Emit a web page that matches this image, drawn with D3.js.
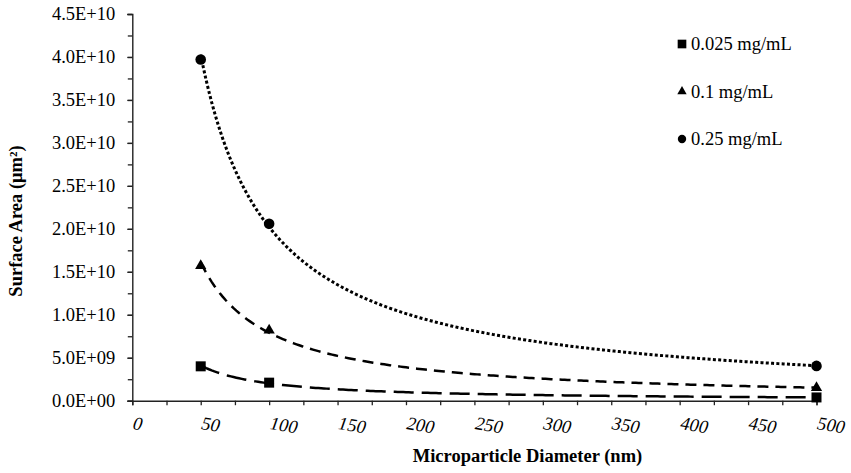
<!DOCTYPE html>
<html><head><meta charset="utf-8">
<script src="https://cdn.jsdelivr.net/npm/d3@7"></script>
<style>
body{margin:0;background:#fff;}
text{font-family:"Liberation Serif","Times New Roman",serif;fill:#000;}
</style>
</head><body>
<svg id="c" width="851" height="473"></svg>
<script>
// ---- data ----
const diameters = [50, 100, 500];
const conc025 = [4.0e9, 2.1e9, 0.38e9];     // 0.025 mg/mL
const conc01  = [1.57e10, 0.82e10, 1.5e9];  // 0.1 mg/mL
const conc25  = [3.97e10, 2.06e10, 0.405e10]; // 0.25 mg/mL
const seriesNames = ["0.025 mg/mL", "0.1 mg/mL", "0.25 mg/mL"];
const xTickValues = [0, 50, 100, 150, 200, 250, 300, 350, 400, 450, 500];
const yTickValues = [0, 5e9, 1e10, 1.5e10, 2e10, 2.5e10, 3e10, 3.5e10, 4e10, 4.5e10];
const xTitle = "Microparticle Diameter (nm)";
const yTitle = "Surface Area (\u03bcm\u00b2)";

const svg = d3.select("#c");
svg.append("rect").attr("width", 851).attr("height", 473).attr("fill", "#fff");

const x = d3.scaleLinear().domain([0, 500]).range([132.3, 816.5]);
const y = d3.scaleLinear().domain([0, 4.5e10]).range([400.7, 14]);

function sciFmt(v) {
  if (v === 0) return "0.0E+00";
  const e = Math.floor(Math.log10(v) + 1e-9);
  const m = v / Math.pow(10, e);
  return m.toFixed(1) + "E+" + String(e).padStart(2, "0");
}

// minor ticks
const yMinor = d3.range(0, 4.5e10 + 1, 2.5e9);
const xMinor = d3.range(0, 501, 25);

const gy = svg.append("g").attr("transform", `translate(${x(0)},0)`)
  .call(d3.axisLeft(y).tickValues(yTickValues).tickFormat(sciFmt).tickSize(5).tickPadding(12));
svg.append("g").attr("transform", `translate(${x(0)},0)`)
  .call(d3.axisLeft(y).tickValues(yMinor).tickFormat("").tickSize(4.5))
  .select(".domain").remove();
gy.selectAll("text").style("font-size", "18.5px").attr("fill", "#000");

const gx = svg.append("g").attr("transform", `translate(0,${y(0)})`)
  .call(d3.axisBottom(x).tickValues(xMinor).tickFormat("").tickSize(4.5));

[gx, gy].forEach(g => {
  g.selectAll(".domain").attr("stroke", "#222").attr("stroke-width", 1.4);
});
svg.selectAll(".tick line").attr("stroke", "#222").attr("stroke-width", 1.3);

// x tick labels (italic, rotated)
svg.append("g").selectAll("text").data(xTickValues).join("text")
  .attr("transform", d => `translate(${x(d)},429) rotate(9)`)
  .attr("text-anchor", "start")
  .style("font-size", "18.5px").style("font-style", "italic")
  .text(d => d);

// titles
svg.append("text").attr("x", 527.5).attr("y", 461.5).attr("text-anchor", "middle")
  .style("font-size", "18.5px").style("font-weight", "bold").text(xTitle);
svg.append("text").attr("transform", "translate(22,221) rotate(-90)").attr("text-anchor", "middle")
  .style("font-size", "18.5px").style("font-weight", "bold").text(yTitle);

// power trendlines (least squares in log-log space, as in the source's trendlines)
function powerFit(xs, ys) {
  const lx = xs.map(Math.log), ly = ys.map(Math.log);
  const mx = d3.mean(lx), my = d3.mean(ly);
  const b = d3.sum(lx, (v, i) => (v - mx) * (ly[i] - my)) / d3.sum(lx, v => (v - mx) * (v - mx));
  const a = Math.exp(my - b * mx);
  return t => a * Math.pow(t, b);
}

const series = [
  {name: seriesNames[0], values: conc025, symbol: d3.symbolSquare, size: 100, dash: "20,8", width: 2.5, legendSize: 75},
  {name: seriesNames[1], values: conc01, symbol: d3.symbolTriangle, size: 55, dash: "11,7", width: 2.5, legendSize: 38},
  {name: seriesNames[2], values: conc25, symbol: d3.symbolCircle, size: 88, dash: "3,2.3", width: 3, legendSize: 55}
];

const line = d3.line().x(d => x(d[0])).y(d => y(d[1]));
const samples = d3.range(diameters[0], diameters[diameters.length - 1] + 0.01, 2);

series.forEach(s => {
  const f = powerFit(diameters, s.values);
  svg.append("path")
    .attr("d", line(samples.map(t => [t, f(t)])))
    .attr("fill", "none").attr("stroke", "#000")
    .attr("stroke-width", s.width).attr("stroke-dasharray", s.dash);
});

series.forEach(s => {
  svg.append("g").selectAll("path").data(diameters).join("path")
    .attr("transform", (d, i) => `translate(${x(d)},${y(s.values[i])})`)
    .attr("d", d3.symbol().type(s.symbol).size(s.size))
    .attr("fill", "#000");
});

// legend
const legendY = [44, 91.5, 139];
series.forEach((s, i) => {
  svg.append("path")
    .attr("transform", `translate(682,${legendY[i]})`)
    .attr("d", d3.symbol().type(s.symbol).size(s.legendSize))
    .attr("fill", "#000");
  svg.append("text").attr("x", 691).attr("y", legendY[i] + 6.2)
    .style("font-size", "18.5px").text(s.name);
});
</script>
</body></html>
